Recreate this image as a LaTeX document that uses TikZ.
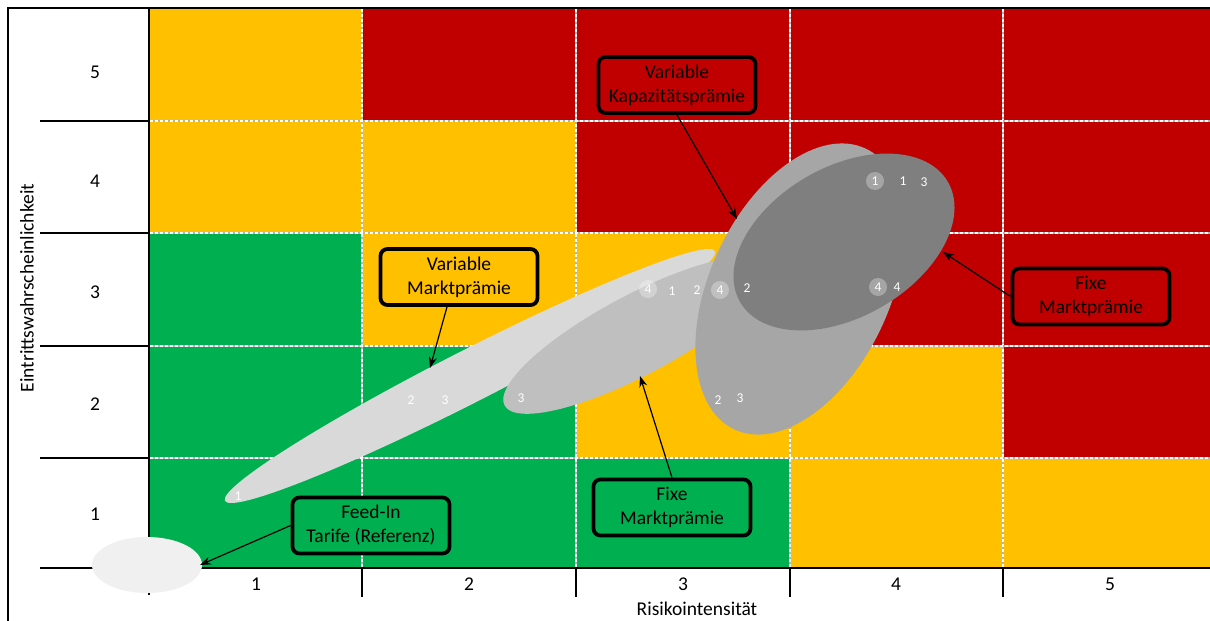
\documentclass[tikz,border=0pt]{standalone}
\usepackage{fontspec}
\setmainfont{Carlito}
\usetikzlibrary{arrows.meta,calc}
\definecolor{riskred}{HTML}{C00000}
\definecolor{riskyellow}{HTML}{FFC000}
\definecolor{riskgreen}{HTML}{00B050}
\definecolor{gA}{HTML}{D9D9D9}
\definecolor{gB}{HTML}{BFBFBF}
\definecolor{gC}{HTML}{A6A6A6}
\definecolor{gD}{HTML}{7F7F7F}
\definecolor{gE}{HTML}{F0F0F0}
\tikzset{
  labelbox/.style={draw=black, line width=3.8pt, rounded corners=7pt,
    minimum width=157pt, minimum height=56pt, align=center,
    font=\fontsize{19.5}{24}\selectfont, inner sep=2pt},
  arr/.style={-{Stealth[length=11pt,width=8pt]}, line width=1.2pt},
  axisline/.style={line width=2pt},
  gridline/.style={white, line width=1.1pt, dash pattern=on 3pt off 2pt},
  gridbase/.style={gray!60, line width=1.1pt},
  axnum/.style={font=\fontsize{19.5}{23}\selectfont},
  pnum/.style={text=white, font=\fontsize{13.5}{15}\selectfont, inner sep=0pt},
  pcirc/.style={circle, fill=white, fill opacity=0.3, text opacity=1,
    text=white, minimum size=18pt, inner sep=0pt, font=\fontsize{13.5}{15}\selectfont}
}
\begin{document}
\begin{tikzpicture}[x=1pt,y=1pt]
\useasboundingbox (0,0) rectangle (1210,-621);
\fill[white] (0,0) rectangle (1210,-621);

% risk matrix cells: x-from / x-to / y-from / y-to / colour
\foreach \xa/\xb/\ya/\yb/\c in {
  149/362/8/121/riskyellow, 362/576/8/121/riskred, 576/790/8/121/riskred, 790/1003/8/121/riskred, 1003/1210/8/121/riskred,
  149/362/121/233/riskyellow, 362/576/121/233/riskyellow, 576/790/121/233/riskred, 790/1003/121/233/riskred, 1003/1210/121/233/riskred,
  149/362/233/346/riskgreen, 362/576/233/346/riskyellow, 576/790/233/346/riskyellow, 790/1003/233/346/riskred, 1003/1210/233/346/riskred,
  149/362/346/458/riskgreen, 362/576/346/458/riskgreen, 576/790/346/458/riskyellow, 790/1003/346/458/riskyellow, 1003/1210/346/458/riskred,
  149/362/458/568/riskgreen, 362/576/458/568/riskgreen, 576/790/458/568/riskgreen, 790/1003/458/568/riskyellow, 1003/1210/458/568/riskyellow}
  \fill[\c] (\xa,-\ya) rectangle (\xb,-\yb);

% dashed grid
\foreach \gx in {362,576,790,1003} {
  \draw[gridbase] (\gx,-9) -- (\gx,-568);
  \draw[gridline] (\gx,-9) -- (\gx,-568);
}
\foreach \gy in {121,233,346,458} {
  \draw[gridbase] (150,-\gy) -- (1210,-\gy);
  \draw[gridline] (150,-\gy) -- (1210,-\gy);
}

% outer frame and axes
\draw[axisline] (8,-621) -- (8,-8) -- (1210,-8);
\draw[axisline] (149,-8) -- (149,-595);
\draw[axisline] (40,-568) -- (1210,-568);
\foreach \ty in {121,233,346,458} \draw[axisline] (40,-\ty) -- (149,-\ty);
\foreach \tx in {362,576,790,1003} \draw[axisline] (\tx,-568) -- (\tx,-597);

% axis numbers
\foreach \v/\px in {1/256,2/469,3/683,4/896,5/1110}
  \node[axnum] (xn\v) at (\px,-584) {\v};
\foreach \v/\py in {5/72,4/181,3/292,2/404,1/514}
  \node[axnum] (yn\v) at (95,-\py) {\v};
\node[axnum] (xtitle) at (697,-609) {Risikointensität};
\node[axnum, rotate=90] (ytitle) at (27,-288) {Eintrittswahrscheinlichkeit};

% instrument ellipses
\fill[gA, shift={(470,-376)}, rotate=27] (0,0) ellipse [x radius=275, y radius=26];
\fill[gB, shift={(637,-335)}, rotate=28] (0,0) ellipse [x radius=150, y radius=40];
\fill[gC, shift={(800,-289)}, rotate=65] (0,0) ellipse [x radius=155, y radius=90];
\fill[gD, shift={(844,-242)}, rotate=30] (0,0) ellipse [x radius=120, y radius=75];
\fill[gE] (147,-565) ellipse [x radius=55, y radius=28];

% risk markers
\node[pnum] (a1) at (238,-496) {1};
\node[pnum] (a2) at (411,-400) {2};
\node[pnum] (a3) at (445,-400) {3};
\node[pnum] (b3) at (521,-398) {3};
\node[pcirc] (b4c) at (648,-289) {4};
\node[pnum] (b1) at (672,-291) {1};
\node[pnum] (b2) at (697,-290) {2};
\node[pcirc] (c4c) at (720,-290) {4};
\node[pnum] (c2) at (747,-288) {2};
\node[pnum] (c2b) at (718,-400) {2};
\node[pnum] (c3b) at (740,-398) {3};
\node[pcirc] (d1c) at (875,-181) {1};
\node[pnum] (d1) at (903,-181) {1};
\node[pnum] (d3) at (924,-182) {3};
\node[pcirc] (d4c) at (878,-287) {4};
\node[pnum] (d4) at (897,-287) {4};

% label boxes
\node[labelbox, fill=riskred] (kap) at (677,-85) {Variable\\Kapazitätsprämie};
\node[labelbox, fill=riskyellow] (vm) at (459,-277) {Variable\\Marktprämie};
\node[labelbox, fill=riskred] (fr) at (1091,-296.5) {Fixe\\Marktprämie};
\node[labelbox, fill=riskgreen] (fb) at (672,-507.5) {Fixe\\Marktprämie};
\node[labelbox, fill=riskgreen] (fi) at (371,-525.5) {Feed-In\\Tarife (Referenz)};

% arrow targets on the ellipses
\coordinate (tkap) at (737,-219);
\coordinate (tvm) at (430,-368);
\coordinate (tfr) at (943,-252);
\coordinate (tfb) at (640,-376);
\coordinate (tfi) at (200,-565);

\draw[arr] (kap.south) -- (tkap);
\draw[arr] ($(vm.south)+(-12,0)$) -- (tvm);
\draw[arr] (fr.west) -- (tfr);
\draw[arr] (fb.north) -- (tfb);
\draw[arr] (fi.west) -- (tfi);
\end{tikzpicture}
\end{document}
